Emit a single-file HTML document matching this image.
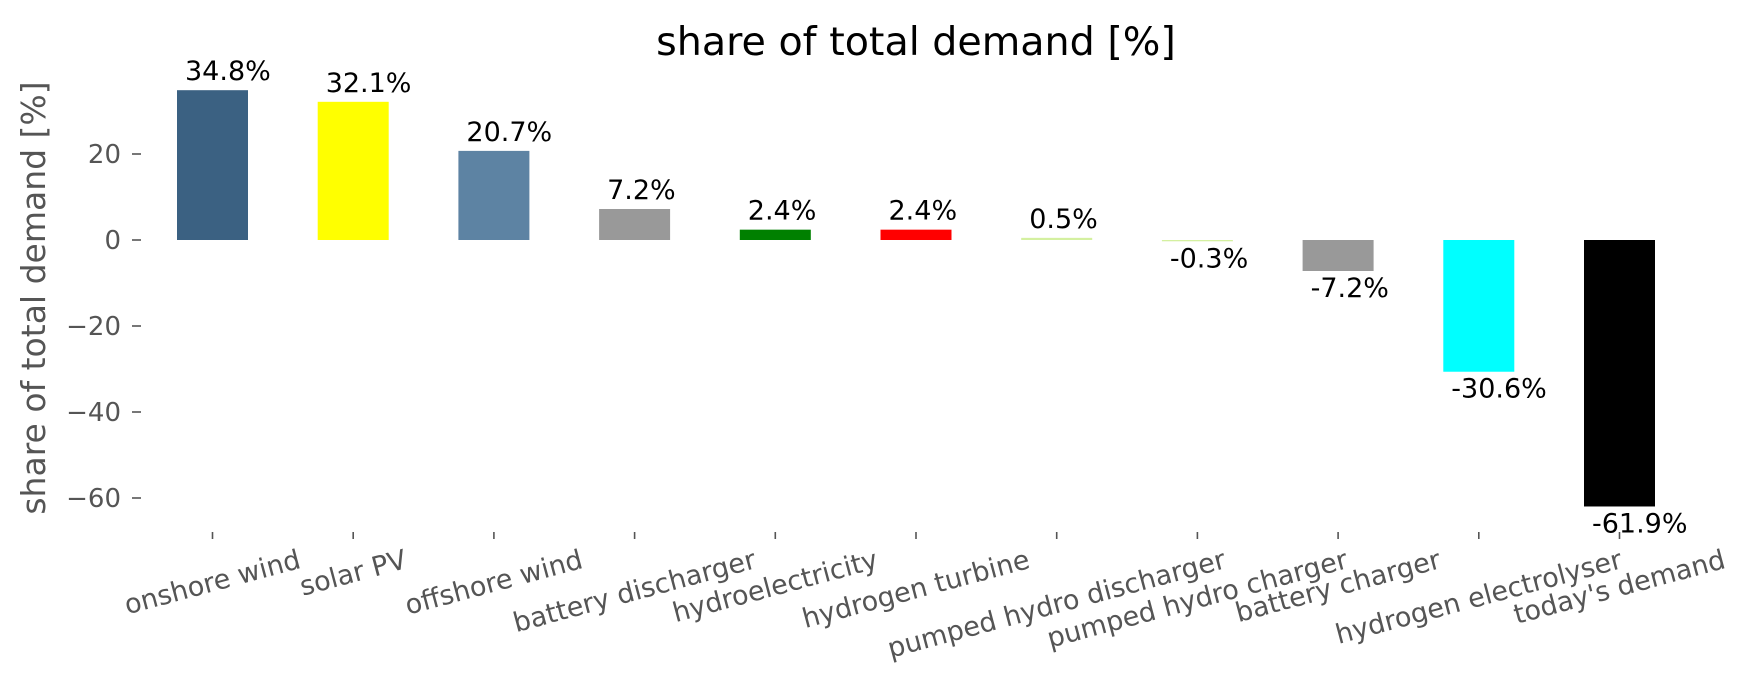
<!DOCTYPE html>
<html><head><meta charset="utf-8"><style>
html,body{margin:0;padding:0;background:#fff;}
svg{display:block;font-family:"DejaVu Sans","Liberation Sans",sans-serif;}
</style></head><body>
<svg id="s" width="1753" height="689" viewBox="0 0 1753 689" xmlns="http://www.w3.org/2000/svg">
<text x="916" y="55" font-size="39.6" text-anchor="middle" fill="#000">share of total demand [%]</text>
<text transform="translate(45,298) rotate(-90)" font-size="33" text-anchor="middle" fill="#555">share of total demand [%]</text>
<g font-size="26" fill="#555" text-anchor="end">
<text x="121" y="163">20</text>
<text x="121" y="249">0</text>
<text x="121" y="335">−20</text>
<text x="121" y="421">−40</text>
<text x="121" y="507">−60</text>
</g>
<g stroke="#555" stroke-width="1.6">
<line x1="132" y1="154" x2="141" y2="154"/>
<line x1="132" y1="240" x2="141" y2="240"/>
<line x1="132" y1="326" x2="141" y2="326"/>
<line x1="132" y1="412" x2="141" y2="412"/>
<line x1="132" y1="498" x2="141" y2="498"/>
</g>
<g id="bars"></g>
<g id="xl" font-size="27" fill="#555"></g>
</svg>
<script>
var data=[["onshore wind",34.8,"#3b6182"],["solar PV",32.1,"#ffff00"],["offshore wind",20.7,"#5d83a3"],["battery discharger",7.2,"#999999"],["hydroelectricity",2.4,"#008000"],["hydrogen turbine",2.4,"#ff0000"],["pumped hydro discharger",0.5,"#d4f0a0"],["pumped hydro charger",-0.3,"#d4f0a0"],["battery charger",-7.2,"#999999"],["hydrogen electrolyser",-30.6,"#00ffff"],["today's demand",-61.9,"#000000"]];
var NS="http://www.w3.org/2000/svg",bars=document.getElementById("bars"),xl=document.getElementById("xl");
var z=240,k=4.305;
function el(t,a,p){var e=document.createElementNS(NS,t);for(var i in a)e.setAttribute(i,a[i]);p.appendChild(e);return e;}
data.forEach(function(d,i){
 var c=212.5+140.7*i,l=c-35.5,v=d[1],h=Math.abs(v)*k;
 var y=v>=0?z-h:z;
 el("rect",{x:l,y:y,width:71,height:Math.max(h,1),fill:d[2]},bars);
 var t=el("text",{x:l+8,y:v>=0?z-h-10:z+h+26,"font-size":27,fill:"#000"},bars);
 t.textContent=v.toFixed(1)+"%";
 el("line",{x1:c,y1:532,x2:c,y2:539,stroke:"#555","stroke-width":1.6},bars);
 var g=el("g",{},xl);
 var tx=el("text",{x:0,y:0,"text-anchor":"middle","dominant-baseline":"central"},g);
 tx.textContent=d[0];
 var w=tx.getComputedTextLength?tx.getComputedTextLength():d[0].length*15;
 var a=15*Math.PI/180,hh=27*0.95;
 var H=w*Math.sin(a)+hh*Math.cos(a);
 var top=547;
 g.setAttribute("transform","translate("+c+","+(top+H/2)+") rotate(-15)");
});
</script>
</body></html>
